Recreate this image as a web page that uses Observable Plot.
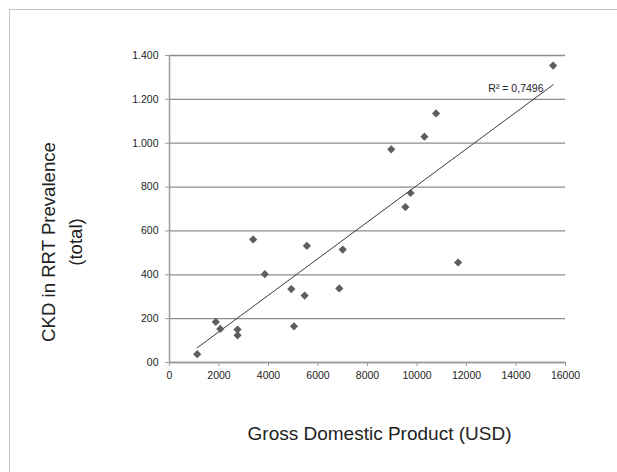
<!DOCTYPE html>
<html>
<head>
<meta charset="utf-8">
<script src="https://cdn.jsdelivr.net/npm/d3@7"></script>
<script src="https://cdn.jsdelivr.net/npm/@observablehq/plot@0.6"></script>
<style>
  html, body { margin: 0; padding: 0; background: #fff; overflow: hidden; }
  #wrap { position: relative; width: 617px; height: 472px; overflow: hidden; }
  #frame { position: absolute; left: 9px; top: 9px; width: 700px; height: 600px; border-top: 1.5px solid #c4c4c4; border-left: 1.5px solid #c4c4c4; box-sizing: border-box; }
  #chart { position: absolute; left: 0; top: 0; }
</style>
</head>
<body>
<div id="wrap"><div id="frame"></div><div id="chart"></div></div>
<script>
// GDP (USD) per country
const gdp = [1120, 1870, 2050, 2750, 2750, 3380, 3850, 4920, 5030, 5460, 5550, 6860, 7000, 9530, 11660, 8960, 9740, 10300, 10770, 15500];
// CKD in RRT prevalence (total)
const ckd = [38, 185, 153, 150, 124, 561, 403, 335, 165, 305, 532, 338, 515, 709, 456, 972, 773, 1030, 1136, 1354];

const xTicks = [0, 2000, 4000, 6000, 8000, 10000, 12000, 14000, 16000];
const xTickLabels = ["0", "2000", "4000", "6000", "8000", "10000", "12000", "14000", "16000"];
const yTicks = [0, 200, 400, 600, 800, 1000, 1200, 1400];
const yTickLabels = ["00", "200", "400", "600", "800", "1.000", "1.200", "1.400"];
const rLabel = ["R² = 0,7496"];
const xTitle = ["Gross Domestic Product (USD)"];
const yTitle = ["CKD in RRT Prevalence\n(total)"];

const data = gdp.map((g, i) => ({gdp: g, ckd: ckd[i]}));
const xLabelMap = new Map(xTicks.map((t, i) => [t, xTickLabels[i]]));
const yLabelMap = new Map(yTicks.map((t, i) => [t, yTickLabels[i]]));

const chart = Plot.plot({
  width: 617,
  height: 472,
  marginLeft: 169,
  marginRight: 52,
  marginTop: 55,
  marginBottom: 110,
  style: {fontFamily: "'Liberation Sans', Arial, sans-serif", fontSize: "10.5px", color: "#222", background: "transparent"},
  x: {domain: [0, 16000]},
  y: {domain: [0, 1400]},
  marks: [
    Plot.gridY(yTicks, {stroke: "#8c8c8c", strokeOpacity: 1, strokeWidth: 1.3}),
    Plot.ruleX([0], {stroke: "#9c9c9c", strokeWidth: 1.5}),
    Plot.ruleY([0], {stroke: "#9c9c9c", strokeWidth: 1.5}),
    Plot.axisX({ticks: xTicks, tickSize: 4, tickPadding: 5, label: null, stroke: "#9c9c9c", fill: "#222", tickFormat: d => xLabelMap.get(d)}),
    Plot.axisY({ticks: yTicks, tickSize: 4, tickPadding: 7, label: null, stroke: "#9c9c9c", fill: "#222", tickFormat: d => yLabelMap.get(d)}),
    Plot.linearRegressionY(data, {x: "gdp", y: "ckd", ci: 0, stroke: "#3a3a3a", strokeWidth: 1}),
    Plot.dot(data, {x: "gdp", y: "ckd", symbol: "diamond2", r: 3.7, fill: "#5e5e5e", stroke: "none"}),
    Plot.text(rLabel, {text: d => d, frameAnchor: "top-right", dx: -22, dy: 29, textAnchor: "end", fontSize: 10.5, fill: "#222"}),
    Plot.text(xTitle, {text: d => d, frameAnchor: "bottom", dx: 12, dy: 77, fontSize: 19, fill: "#222"}),
    Plot.text(yTitle, {text: d => d, frameAnchor: "left", dx: -110, dy: 33, rotate: -90, textAnchor: "middle", fontSize: 18.6, lineHeight: 1.45, lineAnchor: "middle", fill: "#222"})
  ]
});
document.getElementById("chart").append(chart);
</script>
</body>
</html>
